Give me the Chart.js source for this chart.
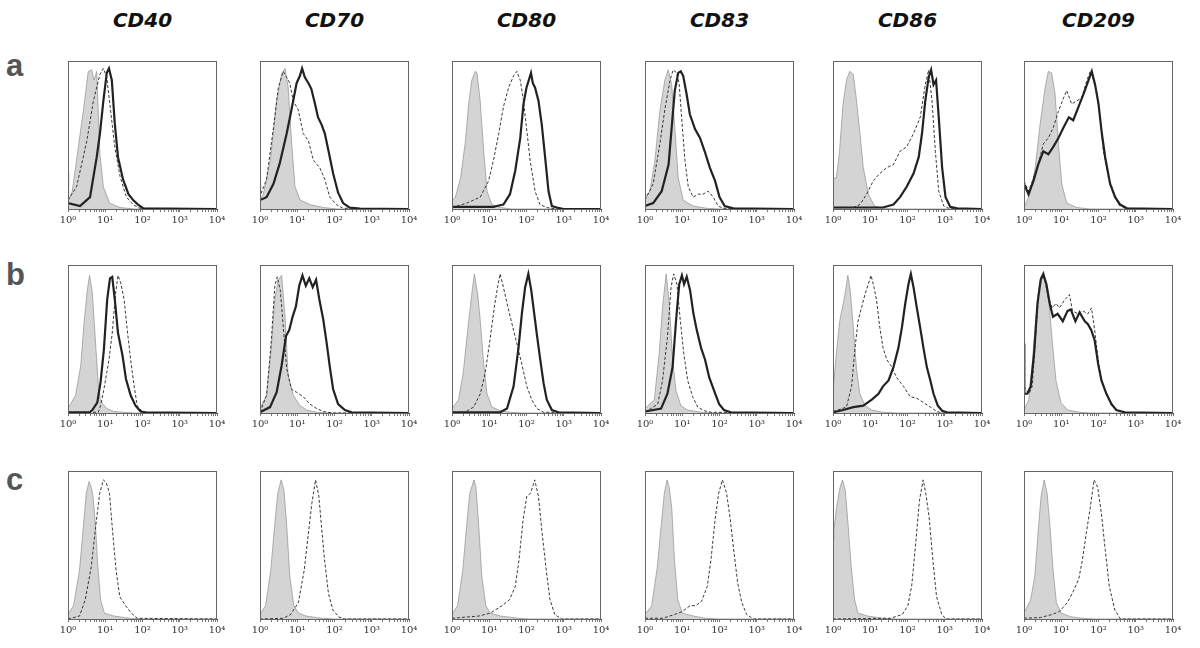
<!DOCTYPE html>
<html>
<head>
<meta charset="utf-8">
<script src="https://cdn.jsdelivr.net/npm/chart.js@4.4.1/dist/chart.umd.min.js"></script>
<style>
body { margin: 0; background: #fff; width: 1200px; height: 648px; position: relative; overflow: hidden; }
.hd { position: absolute; top: 8px; width: 160px; text-align: center; font: italic bold 20px/24px "DejaVu Sans", sans-serif; color: #111; }
.rl { position: absolute; left: 6px; font: bold 31px/30px "Liberation Sans", Arial, sans-serif; color: #555; }
canvas { position: absolute; }
</style>
</head>
<body>
<div id="fig"></div>
<script>
// markers (columns) and conditions (rows)
const markers = ["CD40", "CD70", "CD80", "CD83", "CD86", "CD209"];
const rowNames = ["a", "b", "c"];
const majorTicks = [1, 10, 100, 1000, 10000];
const tickLabels = ["10⁰", "10¹", "10²", "10³", "10⁴"];

// histograms: [fluorescence, % of max]  iso = grey filled, dash = dashed line, solid = thick line
// row a
const cd40_a_iso = [[1,25],[1.04,6],[1.3,12],[1.7,33],[2.6,67],[3.5,93],[4.3,94],[5.0,87],[5.9,93],[7.2,37],[8.9,15],[13,4],[25,1],[60,0],[10000,0]];
const cd40_a_dash = [[1,6],[1.7,15],[3.2,46],[4.8,73],[7.2,91],[8.9,95],[11,89],[13,73],[18,42],[25,22],[37,8],[56,3],[85,0.5],[10000,0]];
const cd40_a_solid = [[1,4],[2.1,2],[3.9,8],[5.9,35],[7.2,51],[8.9,73],[11,92],[12.6,95],[15,87],[18,58],[22,35],[30,20],[42,10],[56,6],[76,3],[104,0.5],[10000,0]];

const cd70_a_iso = [[1,6],[1.23,10],[1.9,33],[2.8,73],[3.8,91],[4.7,95],[5.7,82],[7,46],[8.7,15],[12,6],[22,3],[50,1],[120,0],[10000,0]];
const cd70_a_dash = [[1,40],[1.05,10],[1.5,20],[2.3,55],[3.1,82],[4.2,93],[5.2,89],[6.3,85],[7.8,73],[10.6,67],[14.5,51],[20,46],[27,33],[40,28],[55,20],[75,8],[112,3],[170,0.5],[10000,0]];
const cd70_a_solid = [[1,6],[1.5,8],[2.3,17],[3.4,31],[5.2,51],[7,67],[9.6,85],[11.8,90],[13.5,95],[16,89],[20,85],[24,81],[30,71],[36,62],[45,57],[55,51],[68,40],[92,24],[125,11],[170,4],[250,1],[480,0.2],[10000,0]];

const cd80_a_iso = [[1,12],[1.03,6],[1.23,8],[1.7,21],[2.3,46],[2.8,71],[3.4,87],[4.2,93],[4.7,92],[5.7,73],[7.1,39],[8.7,12],[11.8,3],[20,1],[40,0],[10000,0]];
const cd80_a_dash = [[1,1],[2.5,4],[5.7,8],[9.6,19],[13,33],[18,51],[24,69],[33,82],[45,90],[55,93],[68,87],[83,73],[100,55],[125,33],[170,12],[230,3],[350,1],[600,0],[10000,0]];
const cd80_a_solid = [[1,1.5],[13,1.5],[16,2],[24,3],[36,10],[50,26],[68,48],[83,71],[100,82],[132,92],[148,85],[170,82],[210,73],[257,57],[316,35],[390,12],[480,2],[650,1],[1000,0],[10000,0]];

const cd83_a_iso = [[1,8],[1.35,12],[1.85,33],[2.5,66],[3.4,87],[4.2,94],[5.2,84],[6.3,55],[7.8,21],[10.6,6],[19.6,2],[45,0.5],[100,0],[10000,0]];
const cd83_a_dash = [[1,6],[1.66,17],[2.5,44],[3.5,69],[4.7,87],[5.7,94],[7.1,92],[8.3,84],[9.6,62],[11.8,33],[14.5,15],[19.6,8],[27,10],[36,10],[50,12],[68,8],[92,2],[125,0.5],[10000,0]];
const cd83_a_solid = [[1,2],[1.66,4],[2.8,12],[4.3,30],[5.2,55],[6.3,80],[7.8,92],[9.1,93],[10.6,90],[13,78],[16,64],[22,54],[30,48],[40,39],[55,28],[76,19],[100,8],[138,2],[234,0.5],[10000,0]];

const cd86_a_iso = [[1,62],[1.02,21],[1.23,21],[1.5,39],[1.86,71],[2.3,87],[2.8,93],[3.5,91],[4.2,75],[5.3,51],[6.5,28],[8.9,10],[13,2],[22,0.5],[50,0],[10000,0]];
const cd86_a_dash = [[1,1],[3.5,1],[5.3,3],[8,10],[12,19],[18,24],[28,28],[42,30],[63,39],[95,42],[145,51],[220,62],[300,84],[370,94],[455,73],[560,39],[690,12],[940,2],[1270,0.5],[10000,0]];
const cd86_a_solid = [[1,1],[22,1],[42,3],[63,8],[95,15],[145,24],[200,35],[245,51],[300,73],[370,89],[430,94],[500,84],[585,87],[690,62],[850,28],[1050,8],[1400,1.5],[2150,0.5],[10000,0]];

const cd209_a_iso = [[1,1],[1.45,10],[2,28],[2.7,57],[3.7,82],[4.5,93],[5.5,92],[6.8,78],[8.4,44],[10.3,17],[14,4],[26,1],[60,0],[10000,0]];
const cd209_a_dash = [[1,19],[1.32,12],[1.8,21],[2.4,30],[3.3,44],[4.5,48],[6.1,55],[8.4,66],[11.5,75],[14,80],[19,71],[26,73],[35,75],[49,87],[60,93],[74,87],[91,78],[110,62],[135,39],[186,21],[250,12],[345,3],[520,0.5],[10000,0]];
const cd209_a_solid = [[1,17],[1.32,10],[1.8,19],[2.4,30],[3.3,39],[4.5,37],[6.1,42],[8.4,48],[11.5,55],[16,62],[21,60],[29,69],[40,78],[54,87],[66,93],[81,84],[100,71],[123,51],[151,35],[205,17],[280,8],[380,3],[575,0.5],[10000,0]];

// row b
const cd40_b_iso = [[1,3],[1.6,12],[2.2,32],[2.7,61],[3.3,83],[3.8,93],[4.5,81],[5.5,47],[6.5,19],[7.5,8],[8.7,6],[11,3],[17,1],[29,0.5],[60,0],[10000,0]];
const cd40_b_dash = [[1,0.5],[6.5,0.5],[7.5,5],[9.2,16],[12.6,36],[15.4,54],[19,81],[22,93],[26,88],[32,77],[39,56],[48,36],[59,19],[72,5],[98,1],[150,0],[10000,0]];
const cd40_b_solid = [[1,0.5],[3.8,0.5],[4.5,2],[6.1,7],[7.5,21],[9.2,43],[11.3,77],[13.4,91],[15.4,92],[18,77],[22,54],[29,39],[36,23],[48,12],[65,5],[89,1],[120,0.5],[10000,0]];

const cd70_b_iso = [[1,3],[1.5,12],[2,43],[2.5,77],[3.1,90],[3.8,93],[4.7,65],[5.7,25],[7.8,12],[11.8,5],[18,2],[33,0.5],[80,0],[10000,0]];
const cd70_b_dash = [[1,0.5],[1.5,12],[2,48],[2.5,86],[2.9,92],[3.5,83],[4.2,59],[5.2,30],[7,16],[9.6,14],[14.5,11],[22,6],[33,3],[50,1],[90,0],[10000,0]];
const cd70_b_solid = [[1,0.5],[1.86,4],[2.8,14],[3.8,32],[5,52],[6.1,56],[7.5,65],[9.2,72],[11.3,86],[13.8,93],[17,86],[21,91],[26,85],[32,90],[39,77],[50,63],[61,48],[76,30],[92,16],[125,6],[190,2],[290,0.5],[10000,0]];

const cd80_b_iso = [[1,3],[1.5,9],[2,27],[2.8,62],[3.5,83],[4,94],[4.9,80],[5.75,62],[7.1,33],[8.7,13],[11.8,4],[20,1.5],[36,0.5],[80,0],[10000,0]];
const cd80_b_dash = [[1,0.5],[2.2,0.5],[3.8,4],[5.75,13],[7.8,27],[10.7,51],[13.6,71],[16.7,85],[19.6,94],[24,85],[30,74],[41,60],[55,47],[75,33],[102,18],[138,9],[190,3],[288,0.5],[10000,0]];
const cd80_b_solid = [[1,0.5],[19.6,0.5],[30,3],[45,18],[61,44],[75,67],[92,85],[112,94],[134,83],[154,71],[190,53],[234,36],[288,20],[350,9],[480,2],[720,0.5],[10000,0]];

const cd83_b_iso = [[1,3],[1.78,9],[2.4,40],[2.95,71],[3.7,94],[4.5,74],[5.5,36],[6.8,15],[9.2,5],[14,2],[32,0.5],[80,0],[10000,0]];
const cd83_b_dash = [[1,0.5],[2.2,6],[2.95,22],[4,51],[5,85],[5.9,94],[7.2,87],[8.9,62],[11,40],[14,22],[19,11],[26,4],[39,1.5],[59,0.5],[10000,0]];
const cd83_b_solid = [[1,1],[2.7,3],[4,13],[5.5,31],[6.8,62],[8.3,87],[9.8,93],[11.2,87],[13.2,92],[16.2,83],[20,67],[24.5,56],[32,44],[41,36],[53,24],[72,15],[98,6],[132,2],[200,0.5],[10000,0]];

const cd86_b_iso = [[1,47],[1.03,18],[1.23,40],[1.51,62],[2.1,80],[2.5,93],[2.9,83],[3.5,58],[4.3,29],[5.25,13],[7.2,5],[11,2],[22,0.5],[50,0],[10000,0]];
const cd86_b_dash = [[1,1],[2.3,4],[3.16,18],[3.9,44],[4.7,62],[5.8,71],[7.2,80],[8.8,87],[10.5,93],[12.6,85],[14.8,76],[18,58],[22,44],[28,36],[38,31],[51,24],[78,18],[118,11],[178,10],[268,7],[410,4],[620,1],[850,0],[10000,0]];
const cd86_b_solid = [[1,0.5],[1.86,2],[3.5,4],[6.5,5],[11,9],[16.6,13],[22,18],[31,22],[42,31],[57,44],[71,58],[87,74],[106,87],[123,94],[145,85],[178,71],[218,58],[268,44],[330,31],[410,22],[500,13],[650,5],[850,1.5],[1150,0.5],[10000,0]];

const cd209_b_iso = [[1,2],[1.35,9],[1.66,33],[2.04,62],[2.5,83],[3.1,92],[3.8,90],[4.7,74],[5.8,47],[7.2,22],[9.8,7],[14.8,2],[31,0.5],[60,0],[10000,0]];
const cd209_b_dash = [[1,18],[1.35,13],[1.66,18],[2.04,51],[2.5,83],[2.95,93],[3.6,90],[4.5,78],[5.75,71],[7.2,74],[8.9,71],[12,76],[16.6,80],[20,69],[28,67],[38,69],[52,67],[65,71],[79,56],[98,36],[120,22],[163,13],[224,5],[300,2],[510,0],[10000,0]];
const cd209_b_solid = [[1,47],[1.02,13],[1.23,13],[1.51,18],[1.86,40],[2.3,74],[2.8,90],[3.3,94],[4,87],[4.9,74],[6,65],[8,67],[11,62],[14.8,69],[18,70],[24,62],[31,68],[43,62],[52,60],[64,56],[79,49],[98,33],[120,22],[163,13],[224,6],[300,2],[510,0.5],[10000,0]];

// row c (no thick line)
const cd40_c_iso = [[1,3],[1.41,9],[2.04,33],[2.57,62],[3.1,85],[3.7,93],[4.2,89],[4.7,83],[5.5,62],[6.3,36],[7.5,13],[9.5,4],[17,2],[45,0.5],[100,0],[10000,0]];
const cd40_c_dash = [[1,0],[2.04,2],[2.9,13],[4.2,35],[5.5,62],[7.1,85],[8.9,94],[10.7,92],[13,85],[15.4,62],[19.5,33],[24.6,15],[35,9],[50,4],[72,0.5],[10000,0]];

const cd70_c_iso = [[1,3],[1.41,9],[1.95,33],[2.45,62],[3.0,85],[3.7,94],[4.4,87],[5.25,62],[6.3,29],[8.1,9],[10.7,4],[17,2],[45,0.5],[100,0],[10000,0]];
const cd70_c_dash = [[1,0],[4.2,0.5],[6.6,3],[10.7,11],[15.4,33],[19.5,56],[24.6,78],[31,94],[38,83],[45,62],[54,40],[69,17],[91,6],[129,1.5],[186,0],[10000,0]];

const cd80_c_iso = [[1,3],[1.41,9],[1.95,33],[2.45,62],[3.0,85],[3.9,94],[4.4,89],[5.25,62],[6.3,29],[8.1,9],[10.7,4],[20,2],[60,0.5],[120,0],[10000,0]];
const cd80_c_dash = [[1,0.5],[5.25,2],[10.7,4],[22,9],[35,13],[50,22],[63,40],[81,67],[102,83],[129,85],[166,94],[209,83],[263,58],[339,33],[427,13],[575,3],[870,0],[10000,0]];

const cd83_c_iso = [[1,3],[1.51,9],[2.14,35],[2.69,62],[3.31,85],[3.9,94],[4.47,89],[5.25,74],[6.17,40],[7.6,13],[10,4],[20,2],[42,0.5],[100,0],[10000,0]];
const cd83_c_dash = [[1,0.5],[3.0,0.5],[6.2,3],[10,5],[16.2,9],[23,9],[33,12],[47,22],[59,40],[76,67],[95,85],[120,94],[155,85],[195,67],[245,45],[309,24],[398,11],[537,3],[813,0],[10000,0]];

const cd86_c_iso = [[1,53],[1.05,60],[1.26,76],[1.55,89],[1.8,94],[2.14,87],[2.57,62],[3.09,35],[3.8,13],[4.68,4],[8.5,2],[22,0.5],[50,0],[10000,0]];
const cd86_c_dash = [[1,0],[35,0.5],[72,3],[102,9],[129,22],[166,51],[209,80],[263,94],[309,85],[380,69],[479,40],[603,15],[832,3],[1100,0],[10000,0]];

const cd209_c_iso = [[1,4],[1.51,13],[1.95,29],[2.45,62],[2.88,83],[3.47,94],[4.17,85],[5.0,62],[6.03,33],[7.41,11],[10,4],[18,1.5],[37,0.5],[80,0],[10000,0]];
const cd209_c_dash = [[1,0.5],[2.75,1],[5.6,3],[8.9,5],[14.5,11],[20.4,18],[29.5,27],[37,40],[47,58],[59,74],[76,94],[95,89],[120,71],[151,47],[195,22],[275,6],[390,0],[10000,0]];

const panels = [
  [[cd40_a_iso, cd40_a_dash, cd40_a_solid], [cd70_a_iso, cd70_a_dash, cd70_a_solid], [cd80_a_iso, cd80_a_dash, cd80_a_solid],
   [cd83_a_iso, cd83_a_dash, cd83_a_solid], [cd86_a_iso, cd86_a_dash, cd86_a_solid], [cd209_a_iso, cd209_a_dash, cd209_a_solid]],
  [[cd40_b_iso, cd40_b_dash, cd40_b_solid], [cd70_b_iso, cd70_b_dash, cd70_b_solid], [cd80_b_iso, cd80_b_dash, cd80_b_solid],
   [cd83_b_iso, cd83_b_dash, cd83_b_solid], [cd86_b_iso, cd86_b_dash, cd86_b_solid], [cd209_b_iso, cd209_b_dash, cd209_b_solid]],
  [[cd40_c_iso, cd40_c_dash], [cd70_c_iso, cd70_c_dash], [cd80_c_iso, cd80_c_dash],
   [cd83_c_iso, cd83_c_dash], [cd86_c_iso, cd86_c_dash], [cd209_c_iso, cd209_c_dash]]
];

// layout
const colLeft = [68, 260, 452, 645, 833, 1024];
const rowTop = [61, 265, 471];
const rowLabelTop = [51, 260, 465];
const boxW = 149, boxH = 148, padL = 12, padR = 12, padT = 4, axisH = 18;

const framePlugin = {
  id: "frame",
  afterDraw(chart) {
    const a = chart.chartArea, c = chart.ctx;
    c.save();
    c.strokeStyle = "#666";
    c.lineWidth = 1;
    c.strokeRect(Math.round(a.left) + 0.5, Math.round(a.top) + 0.5, Math.round(a.right - a.left) - 1, Math.round(a.bottom - a.top));
    c.restore();
  }
};

function makeChart(canvas, iso, dash, solid) {
  const ds = [];
  if (solid) ds.push({ data: solid, borderColor: "#222", borderWidth: 2.2, pointRadius: 0, fill: false, order: 0 });
  ds.push({ data: dash, borderColor: "#222", borderWidth: 0.9, borderDash: [3, 2], pointRadius: 0, fill: false, order: 1 });
  ds.push({ data: iso, borderColor: "#9a9a9a", borderWidth: 0.8, backgroundColor: "#d4d4d4", pointRadius: 0, fill: "origin", order: 2 });

  new Chart(canvas, {
    type: "line",
    data: { datasets: ds },
    options: {
      responsive: false,
      animation: false,
      devicePixelRatio: 1,
      layout: { padding: { left: padL, right: padR, top: padT, bottom: 0 } },
      plugins: { legend: { display: false }, tooltip: { enabled: false } },
      elements: { line: { tension: 0 } },
      scales: {
        x: {
          type: "logarithmic",
          min: 1,
          max: 10000,
          afterBuildTicks: (s) => {
            s.ticks = s.ticks.filter((t) => {
              const m = t.value / Math.pow(10, Math.floor(Math.log10(t.value) + 1e-9));
              return Math.abs(m - 1.5) > 1e-6;
            });
          },
          afterFit: (s) => { s.height = axisH; },
          grid: { drawOnChartArea: false, drawTicks: true, tickLength: 3, color: "#555", lineWidth: 0.8 },
          border: { display: true, color: "#222", width: 1 },
          ticks: {
            autoSkip: false,
            maxRotation: 0,
            padding: 2,
            color: "#333",
            font: { family: "DejaVu Serif", size: 10 },
            callback: (v) => {
              const i = majorTicks.indexOf(v);
              return i >= 0 ? tickLabels[i] : "";
            }
          }
        },
        y: { display: false, min: 0, max: 100 }
      }
    },
    plugins: [framePlugin]
  });
}

const fig = document.getElementById("fig");

markers.forEach((m, c) => {
  const d = document.createElement("div");
  d.className = "hd";
  d.style.left = (colLeft[c] + boxW / 2 - 80) + "px";
  d.textContent = m;
  fig.appendChild(d);
});

rowNames.forEach((r, i) => {
  const d = document.createElement("div");
  d.className = "rl";
  d.style.top = rowLabelTop[i] + "px";
  d.textContent = r;
  fig.appendChild(d);
});

panels.forEach((row, r) => {
  row.forEach((p, c) => {
    const cv = document.createElement("canvas");
    cv.width = boxW + padL + padR;
    cv.height = boxH + padT + axisH;
    cv.style.left = (colLeft[c] - padL) + "px";
    cv.style.top = (rowTop[r] - padT) + "px";
    fig.appendChild(cv);
    makeChart(cv, p[0], p[1], p[2]);
  });
});
</script>
</body>
</html>
